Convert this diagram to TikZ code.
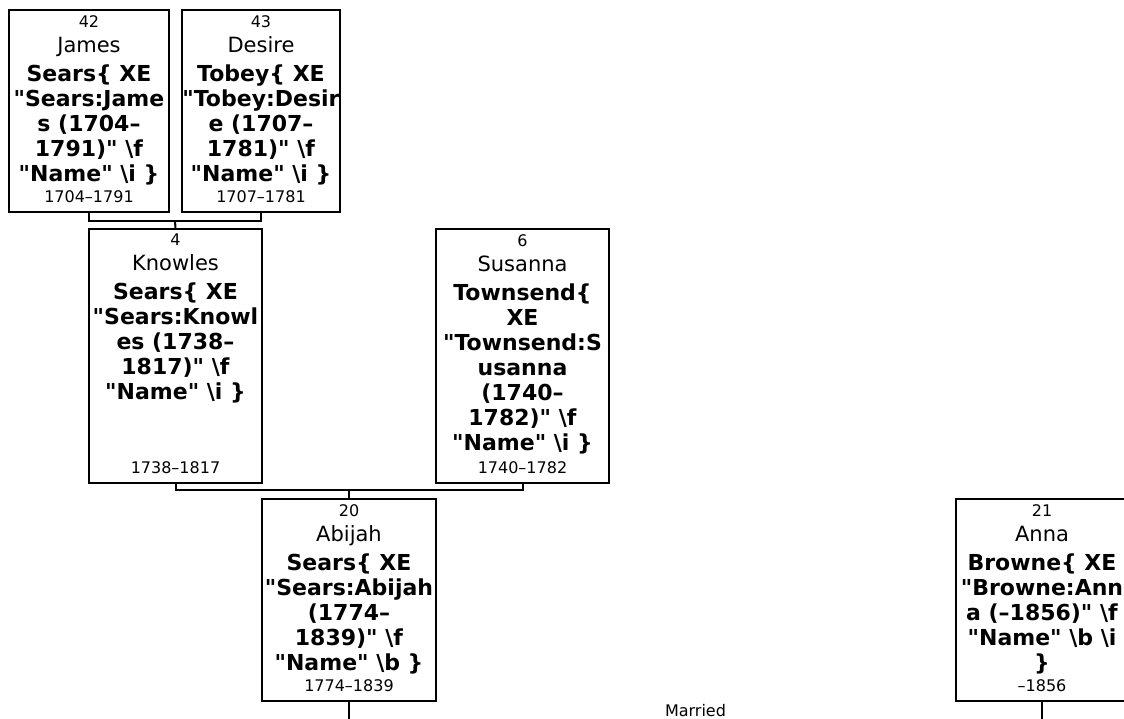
\documentclass[tikz,border=0pt]{standalone}
\usepackage{fontspec}
\setmainfont{DejaVu Sans}
\usetikzlibrary{positioning,calc}
\tikzstyle{person} = [rectangle, draw, line width=2pt, inner sep=0pt]
\tikzstyle{bio} = [align=center, inner sep=0pt, font=\fontsize{21}{25}\selectfont]
\tikzstyle{years} = [inner sep=0pt, text depth=0pt, font=\fontsize{16}{19}\selectfont]
\tikzstyle{link} = [line width=2pt]

\begin{document}
\begin{tikzpicture}[x=1pt, y=-1pt]
        \useasboundingbox (0,0) rectangle (1124,719);
        % grandparents
        \node (james) [person, minimum width=160pt, minimum height=202pt] at (89,111) {};
        \node (james-bio) [bio, below=6pt of james.north] {
            {\fontsize{16}{19}\selectfont 42} \\ James \\[4pt]
            \textbf{\fontsize{22}{25}\selectfont Sears\{ XE} \\ \textbf{\fontsize{22}{25}\selectfont \textquotedbl Sears:Jame} \\ \textbf{\fontsize{22}{25}\selectfont s (1704--} \\
            \textbf{\fontsize{22}{25}\selectfont 1791)\textquotedbl{} \textbackslash f} \\ \textbf{\fontsize{22}{25}\selectfont \textquotedbl Name\textquotedbl{} \textbackslash i \}}
        };
        \node (james-years) [years, above=10pt of james.south] {1704--1791};
        \node (desire) [person, minimum width=158pt, minimum height=202pt] at (261,111) {};
        \node (desire-bio) [bio, below=6pt of desire.north] {
            {\fontsize{16}{19}\selectfont 43} \\ Desire \\[4pt]
            \textbf{\fontsize{22}{25}\selectfont Tobey\{ XE} \\ \textbf{\fontsize{22}{25}\selectfont \textquotedbl Tobey:Desir} \\ \textbf{\fontsize{22}{25}\selectfont e (1707--} \\
            \textbf{\fontsize{22}{25}\selectfont 1781)\textquotedbl{} \textbackslash f} \\ \textbf{\fontsize{22}{25}\selectfont \textquotedbl Name\textquotedbl{} \textbackslash i \}}
        };
        \node (desire-years) [years, above=10pt of desire.south] {1707--1781};
        % parents
        \node (knowles) [person, minimum width=173pt, minimum height=254pt] at (175.5,356) {};
        \node (knowles-bio) [bio, below=6pt of knowles.north] {
            {\fontsize{16}{19}\selectfont 4} \\ Knowles \\[4pt]
            \textbf{\fontsize{22}{25}\selectfont Sears\{ XE} \\ \textbf{\fontsize{22}{25}\selectfont \textquotedbl Sears:Knowl} \\ \textbf{\fontsize{22}{25}\selectfont es (1738--} \\
            \textbf{\fontsize{22}{25}\selectfont 1817)\textquotedbl{} \textbackslash f} \\ \textbf{\fontsize{22}{25}\selectfont \textquotedbl Name\textquotedbl{} \textbackslash i \}}
        };
        \node (knowles-years) [years, above=10pt of knowles.south] {1738--1817};
        \node (susanna) [person, minimum width=173pt, minimum height=254pt] at (522.5,356) {};
        \node (susanna-bio) [bio, below=6pt of susanna.north] {
            {\fontsize{16}{19}\selectfont 6} \\ Susanna \\[4pt]
            \textbf{\fontsize{22}{25}\selectfont Townsend\{} \\ \textbf{\fontsize{22}{25}\selectfont XE} \\ \textbf{\fontsize{22}{25}\selectfont \textquotedbl Townsend:S} \\ \textbf{\fontsize{22}{25}\selectfont usanna} \\
            \textbf{\fontsize{22}{25}\selectfont (1740--} \\ \textbf{\fontsize{22}{25}\selectfont 1782)\textquotedbl{} \textbackslash f} \\ \textbf{\fontsize{22}{25}\selectfont \textquotedbl Name\textquotedbl{} \textbackslash i \}}
        };
        \node (susanna-years) [years, above=10pt of susanna.south] {1740--1782};
        % couple
        \node (abijah) [person, minimum width=174pt, minimum height=202pt] at (349,600) {};
        \node (abijah-bio) [bio, below=6pt of abijah.north] {
            {\fontsize{16}{19}\selectfont 20} \\ Abijah \\[4pt]
            \textbf{\fontsize{22}{25}\selectfont Sears\{ XE} \\ \textbf{\fontsize{22}{25}\selectfont \textquotedbl Sears:Abijah} \\ \textbf{\fontsize{22}{25}\selectfont (1774--} \\
            \textbf{\fontsize{22}{25}\selectfont 1839)\textquotedbl{} \textbackslash f} \\ \textbf{\fontsize{22}{25}\selectfont \textquotedbl Name\textquotedbl{} \textbackslash b \}}
        };
        \node (abijah-years) [years, above=10pt of abijah.south] {1774--1839};
        \node (anna) [person, minimum width=172pt, minimum height=202pt] at (1042,600) {};
        \node (anna-bio) [bio, below=6pt of anna.north] {
            {\fontsize{16}{19}\selectfont 21} \\ Anna \\[4pt]
            \textbf{\fontsize{22}{25}\selectfont Browne\{ XE} \\ \textbf{\fontsize{22}{25}\selectfont \textquotedbl Browne:Ann} \\ \textbf{\fontsize{22}{25}\selectfont a (--1856)\textquotedbl{} \textbackslash f} \\
            \textbf{\fontsize{22}{25}\selectfont \textquotedbl Name\textquotedbl{} \textbackslash b \textbackslash i} \\ \textbf{\fontsize{22}{25}\selectfont \}}
        };
        \node (anna-years) [years, above=10pt of anna.south] {--1856};
        \node (married) [years, anchor=base] at (695.5,716) {Married};
        % connectors
        \coordinate (james-desire) at (175,221);
        \coordinate (knowles-susanna) at (349,490);
        \coordinate (abijah-down) at (349,725);
        \coordinate (anna-down) at (1042,725);
        \draw [link] (james.south) |- (james-desire) -| (desire.south);
        \draw [link] (james-desire) -- (knowles.north);
        \draw [link] (knowles.south) |- (knowles-susanna) -| (susanna.south);
        \draw [link] (knowles-susanna) -- (abijah.north);
        \draw [link] (abijah.south) -- (abijah-down);
        \draw [link] (anna.south) -- (anna-down);
    \end{tikzpicture}
\end{document}
